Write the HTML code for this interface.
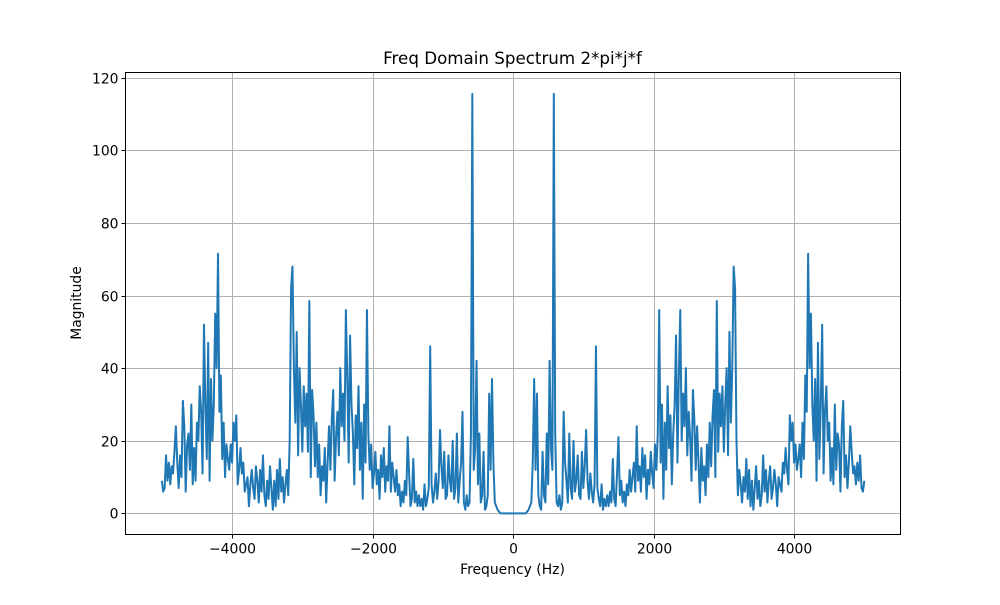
<!DOCTYPE html>
<html><head><meta charset="utf-8"><style>
body{margin:0;background:#fff;}
svg text{font-family:"DejaVu Sans","Liberation Sans",sans-serif;fill:#000;}
</style></head><body>
<svg id="chart" width="1000" height="600" xmlns="http://www.w3.org/2000/svg">
<rect width="1000" height="600" fill="#fff"/>
<g id="grid"></g>
<g id="plot"></g>
<rect x="125.5" y="72.5" width="775" height="462" fill="none" stroke="#000" stroke-width="1"/>
<g id="ticks"></g>
<text x="512.5" y="64" font-size="16.7" text-anchor="middle">Freq Domain Spectrum 2*pi*j*f</text>
<text x="512.5" y="574" font-size="13.9" text-anchor="middle">Frequency (Hz)</text>
<text transform="translate(81,303) rotate(-90)" font-size="13.9" text-anchor="middle">Magnitude</text>
</svg>
<script>
const stepHz = 20;
const mags = [0,0,0,0,0,0,0,0,0,0,0.5,1,2,3,14,37,12,33,5,2,1,17,5,3,22,8,42,18,12,115.5,22,3,2,5,1,3,
28,14,9,3,22,7,4,20,6,9,16,5,4,17,7,13,23,9,4,11,6,3,8,46,7,4,2,8,1,4,2,5,2,6,3,15,4,2,11,21,5,9,3,6,2,8,5,12,6,10,14,6,24,9,13,6,18,10,16,4,12,8,17,11,7,19,12,22,56,14,30,4,25,12,35,18,27,8,22,30,49,14,38,56,20,33,24,40,16,28,21,9,34,26,12,24,14,3,18,9,13,5,19,10,25,13,27,34,10,58.5,17,33,24,35,17,30,40,16,50,25,40,68,62,20,5,12,8,3,10,6,15,4,12,2,9,1,7,13,4,9,2,5,16,6,12,3,9,13,4,7,12,8,2,10,8,6,14,11,18,12,8,27,20,25,14,19,12,15,19,10,25,15,38,28,71.5,40,55,30,20,37,9,47,15,30,52,11,28,35,20,25,9,18,8,30,12,22,19,6,24,31,10,16,7,14,24,17,11,13,8,14,9,16,7,6,9];
const xTicks = [-4000,-2000,0,2000,4000];
const yTicks = [0,20,40,60,80,100,120];

const X0=125.5,X1=900.5,Y0=72.5,Y1=534.5;
const xMin=-5517,xMax=5515,yMin=-5.8,yMax=121.4;
function xs(v){return X0+(v-xMin)/(xMax-xMin)*(X1-X0);}
function ys(v){return Y1-(v-yMin)/(yMax-yMin)*(Y1-Y0);}
const NS="http://www.w3.org/2000/svg";
const grid=document.getElementById('grid'),ticks=document.getElementById('ticks'),plot=document.getElementById('plot');
function mk(tag,attrs,parent){const e=document.createElementNS(NS,tag);for(const k in attrs)e.setAttribute(k,attrs[k]);parent.appendChild(e);return e;}
function fmt(v){return v<0?'\u2212'+Math.abs(v):String(v);}
xTicks.forEach(v=>{
  const x=Math.round(xs(v))+0.5;
  const g=mk('line',{x1:x,x2:x,y1:Y0,y2:Y1,stroke:'#b0b0b0','stroke-width':1},grid);
  
  
  const t=mk('line',{x1:x,x2:x,y1:Y1,y2:Y1+4,stroke:'#000'},ticks);
  
  
  const l=mk('text',{x:x,y:Y1+19,'font-size':13.9,'text-anchor':'middle'},ticks);
  l.textContent=fmt(v);
  
  
});
yTicks.forEach(v=>{
  const y=Math.round(ys(v))+0.5;
  const g=mk('line',{x1:X0,x2:X1,y1:y,y2:y,stroke:'#b0b0b0','stroke-width':1},grid);
  
  
  const t=mk('line',{x1:X0-4,x2:X0,y1:y,y2:y,stroke:'#000'},ticks);
  
  
  const l=mk('text',{x:X0-7,y:y+5,'font-size':13.9,'text-anchor':'end'},ticks);
  l.textContent=fmt(v);
  
  
});
const pts=[];
for(let i=mags.length-1;i>=1;i--)pts.push([-i*stepHz,mags[i]]);
for(let i=0;i<mags.length;i++)pts.push([i*stepHz,mags[i]]);
const d=pts.map((p,i)=>(i?'L':'M')+xs(p[0]).toFixed(2)+' '+ys(p[1]).toFixed(2)).join(' ');
const path=mk('path',{d:d,fill:'none',stroke:'#1f77b4','stroke-width':2,'stroke-linejoin':'round'},plot);


</script>
</body></html>
